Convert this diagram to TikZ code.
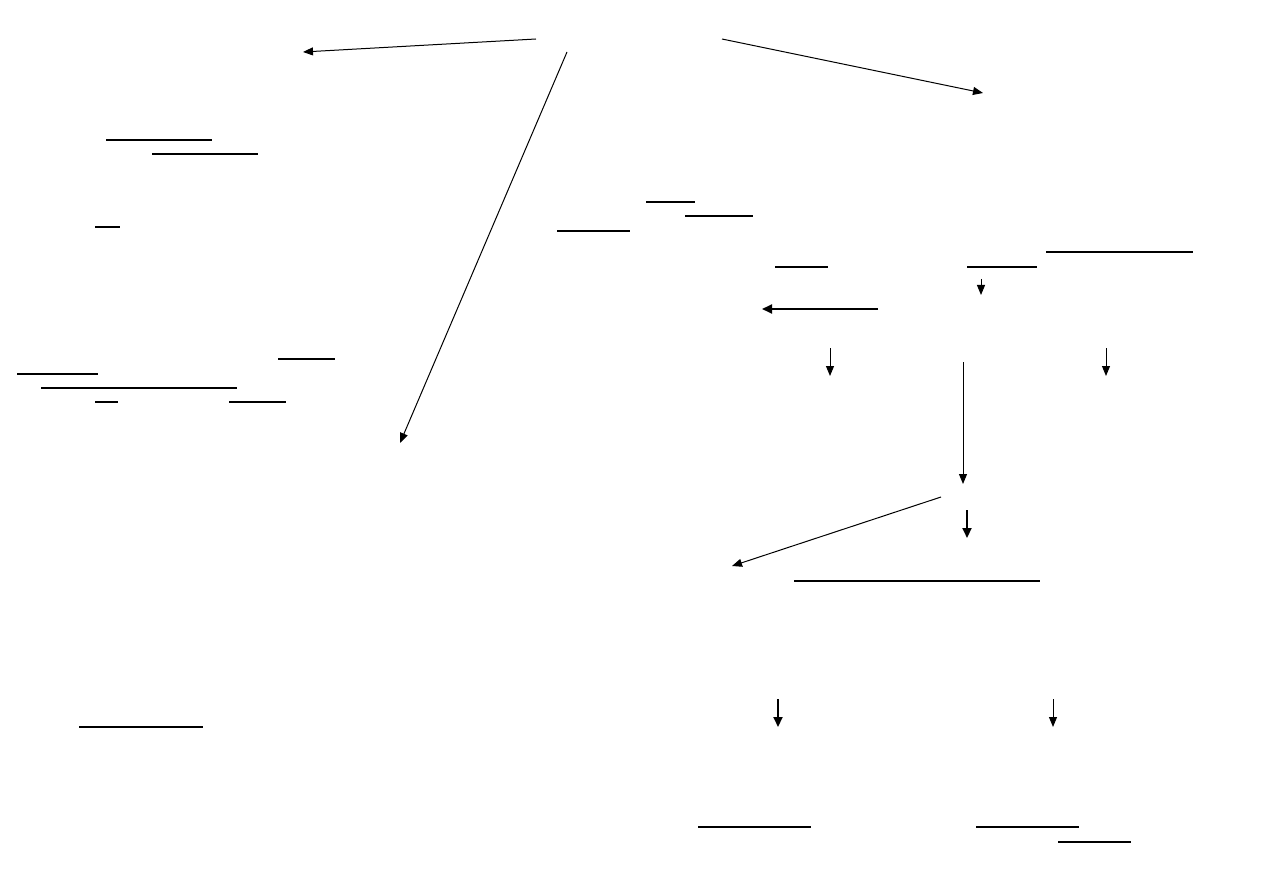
\documentclass[tikz,border=0pt]{standalone}
\usetikzlibrary{arrows.meta}

\begin{document}
\begin{tikzpicture}[x=0.5pt,y=-0.5pt,
    link/.style={line width=0.5pt,-{Triangle[length=5pt,width=4pt]}},
    boldlink/.style={line width=1pt,-{Triangle[length=5pt,width=4.5pt]}},
    rule/.style={line width=0.6pt}]
    \useasboundingbox (0,0) rectangle (1263,893);
    % ends of the connectors
    \coordinate (top-l) at (536,39);   \coordinate (left) at (303,52);
    \coordinate (top-m) at (567,52);   \coordinate (mid) at (400,443);
    \coordinate (top-r) at (722,39);   \coordinate (right) at (983,93);
    \coordinate (r-from) at (878,309); \coordinate (r-to) at (762,309);
    \coordinate (s-from) at (981,279); \coordinate (s-to) at (981,295);
    \coordinate (a-from) at (830,348); \coordinate (a-to) at (830,376);
    \coordinate (b-from) at (1106,348);\coordinate (b-to) at (1106,376);
    \coordinate (c-from) at (963,362); \coordinate (c-to) at (963,484);
    \coordinate (d-from) at (941,497); \coordinate (d-to) at (732,566);
    \coordinate (e-from) at (967,510); \coordinate (e-to) at (967,538);
    \coordinate (f-from) at (778,699); \coordinate (f-to) at (778,727);
    \coordinate (g-from) at (1053,699);\coordinate (g-to) at (1053,727);
    \path[link]
    (top-l) edge (left)
    (top-m) edge (mid)
    (top-r) edge (right)
    (s-from) edge (s-to)
    (a-from) edge (a-to)
    (b-from) edge (b-to)
    (c-from) edge (c-to)
    (d-from) edge (d-to)
    (g-from) edge (g-to);
    \path[boldlink]
    (r-from) edge (r-to)
    (e-from) edge (e-to)
    (f-from) edge (f-to);
    % underlines
    \foreach \y/\xa/\xb in {140/106/212, 154/152/258, 227/95/120,
      359/278/335, 374/17/98, 388/41/237, 402/95/118, 402/229/286,
      727/79/203, 202/646/695, 216/685/753, 231/557/630,
      252/1046/1193, 267/775/828, 267/967/1037, 581/794/1040,
      827/698/811, 827/976/1079, 842/1058/1131}
      \draw[rule] (\xa,\y) -- (\xb,\y);
\end{tikzpicture}
\end{document}
